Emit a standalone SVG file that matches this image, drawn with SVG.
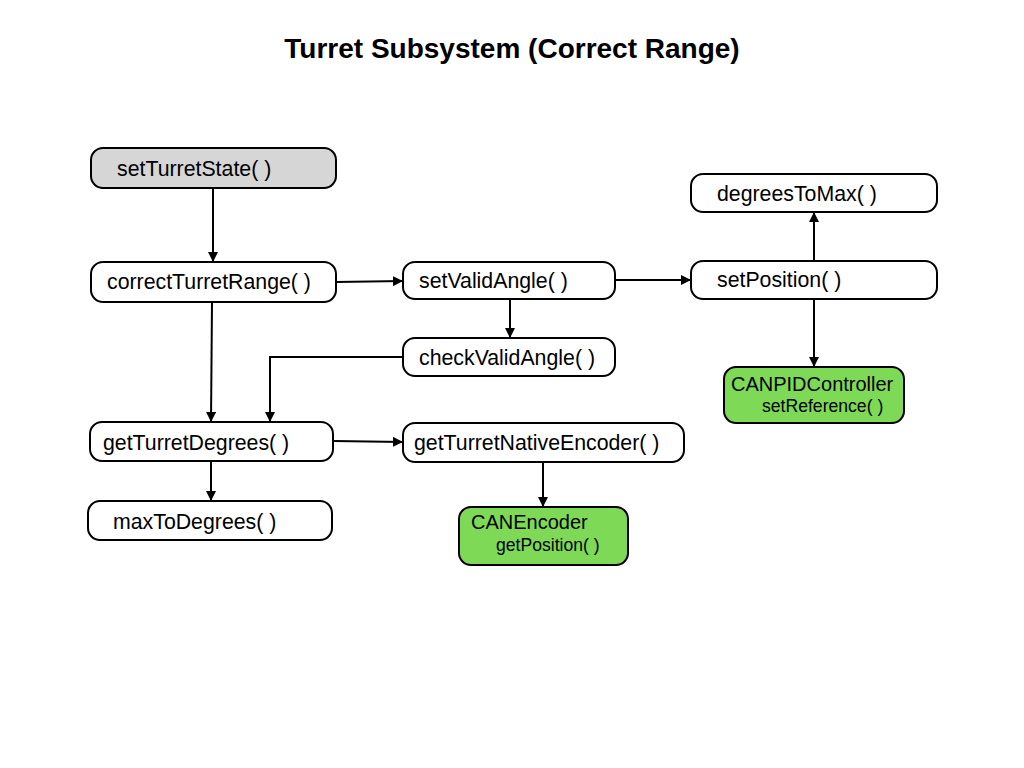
<svg xmlns="http://www.w3.org/2000/svg" width="1024" height="768" viewBox="0 0 1024 768">
<style>
.box{fill:#fff;stroke:#000;stroke-width:2}
.gray{fill:#d6d6d6}
.green{fill:#7ed957}
.t{font-family:"Liberation Sans",Arial,sans-serif;font-size:21.3px;fill:#000}
.g{font-family:"Liberation Sans",Arial,sans-serif;font-size:20px;fill:#000}
.s{font-family:"Liberation Sans",Arial,sans-serif;font-size:17.6px;fill:#000}
.title{font-family:"Liberation Sans",Arial,sans-serif;font-size:28px;font-weight:bold;fill:#000}
.c{fill:none;stroke:#000;stroke-width:2}
</style>
<defs>
<marker id="ah" viewBox="0 0 10 10" refX="10" refY="5" markerWidth="5" markerHeight="5" orient="auto" markerUnits="strokeWidth">
<path d="M0,0 L10,5 L0,10 z" fill="#000"/>
</marker>
</defs>
<rect width="1024" height="768" fill="#fff"/>
<text class="title" x="512" y="58" text-anchor="middle">Turret Subsystem (Correct Range)</text>
<g id="connectors">
<path class="c" d="M213,188 L213,262" marker-end="url(#ah)"/>
<path class="c" d="M336,282 L403,281" marker-end="url(#ah)"/>
<path class="c" d="M615,280 L691,280" marker-end="url(#ah)"/>
<path class="c" d="M814,261 L814,212" marker-end="url(#ah)"/>
<path class="c" d="M814,299 L814,367" marker-end="url(#ah)"/>
<path class="c" d="M510,299 L510,338" marker-end="url(#ah)"/>
<path class="c" d="M403,357 L270,357 L270,422" marker-end="url(#ah)"/>
<path class="c" d="M212,302 L211,422" marker-end="url(#ah)"/>
<path class="c" d="M211,461 L211,501" marker-end="url(#ah)"/>
<path class="c" d="M334,441 L403,442" marker-end="url(#ah)"/>
<path class="c" d="M543,462 L543,507" marker-end="url(#ah)"/>
</g>
<g id="setTurretState">
<rect class="box gray" x="91" y="148" width="245" height="40" rx="12"/>
<text class="t" x="117" y="176">setTurretState( )</text>
</g>
<g id="correctTurretRange">
<rect class="box" x="91" y="262" width="245" height="40" rx="12"/>
<text class="t" x="107" y="289">correctTurretRange( )</text>
</g>
<g id="setValidAngle">
<rect class="box" x="403" y="262" width="212" height="37" rx="12"/>
<text class="t" x="419" y="288">setValidAngle( )</text>
</g>
<g id="setPosition">
<rect class="box" x="691" y="261" width="246" height="38" rx="12"/>
<text class="t" x="717" y="287">setPosition( )</text>
</g>
<g id="degreesToMax">
<rect class="box" x="691" y="174" width="246" height="38" rx="12"/>
<text class="t" x="717" y="201">degreesToMax( )</text>
</g>
<g id="CANPIDController">
<rect class="box green" x="724" y="367" width="180" height="56" rx="12"/>
<text class="g" x="731" y="391">CANPIDController</text>
<text class="s" x="762" y="412">setReference( )</text>
</g>
<g id="checkValidAngle">
<rect class="box" x="403" y="338" width="212" height="38" rx="12"/>
<text class="t" x="419" y="365">checkValidAngle( )</text>
</g>
<g id="getTurretDegrees">
<rect class="box" x="90" y="422" width="243" height="39" rx="12"/>
<text class="t" x="103" y="450">getTurretDegrees( )</text>
</g>
<g id="maxToDegrees">
<rect class="box" x="88" y="501" width="244" height="39" rx="12"/>
<text class="t" x="113" y="529">maxToDegrees( )</text>
</g>
<g id="getTurretNativeEncoder">
<rect class="box" x="403" y="423" width="281" height="39" rx="12"/>
<text class="t" x="414" y="450">getTurretNativeEncoder( )</text>
</g>
<g id="CANEncoder">
<rect class="box green" x="459" y="507" width="169" height="58" rx="12"/>
<text class="g" x="471" y="529">CANEncoder</text>
<text class="s" x="496" y="551">getPosition( )</text>
</g>
</svg>
